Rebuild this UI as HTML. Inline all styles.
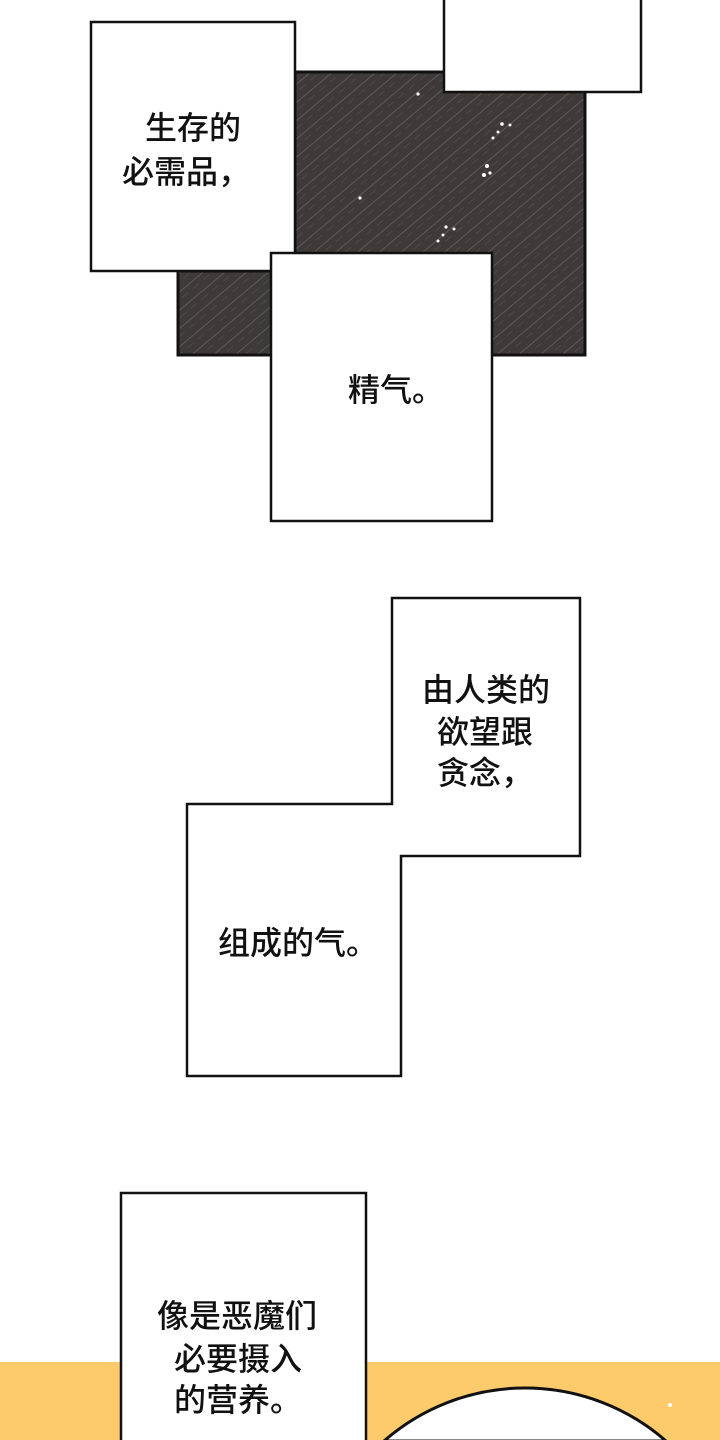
<!DOCTYPE html>
<html><head><meta charset="utf-8"><style>
html,body{margin:0;padding:0;background:#fff;width:720px;height:1440px;overflow:hidden;}
svg{display:block;}
text{font-family:"Liberation Sans","Noto Sans CJK SC",sans-serif;font-size:32px;fill:#111;font-weight:500;}
</style></head><body>
<svg width="720" height="1440" viewBox="0 0 720 1440" xmlns="http://www.w3.org/2000/svg">
<defs>
<pattern id="rain" width="14" height="14" patternUnits="userSpaceOnUse" patternTransform="rotate(-40)">
<rect width="14" height="14" fill="#3e3a39"/>
<line x1="0" y1="3" x2="14" y2="3" stroke="#6a6664" stroke-width="0.7"/>
<line x1="4" y1="9" x2="12" y2="9" stroke="#57524f" stroke-width="0.6"/>
</pattern>
</defs>
<rect width="720" height="1440" fill="#fff"/>
<rect x="0" y="1362" width="720" height="78" fill="#fdca6c"/>
<path d="M384 1441 A214 214 0 0 1 666 1441 Z" fill="#fff" stroke="#111" stroke-width="3"/>
<circle cx="670" cy="1405" r="2" fill="#fff"/>
<path d="M295 72 H585 V355 H178 V271 H295 Z" fill="url(#rain)" stroke="#111" stroke-width="3"/>
<g fill="#fff">
<circle cx="418" cy="94" r="1.6"/><circle cx="502" cy="124" r="1.8"/><circle cx="510" cy="125" r="1.5"/>
<circle cx="498" cy="132" r="1.5"/><circle cx="493" cy="138" r="1.5"/><circle cx="487" cy="166" r="2"/>
<circle cx="484" cy="175" r="2"/><circle cx="490" cy="173" r="1.6"/><circle cx="360" cy="198" r="1.6"/>
<circle cx="446" cy="227" r="1.6"/><circle cx="454" cy="229" r="1.5"/><circle cx="443" cy="235" r="1.5"/><circle cx="438" cy="241" r="1.5"/>
</g>
<path d="M444 0 V92 H641 V0" fill="#fff" stroke="#111" stroke-width="2.5"/>
<rect x="91" y="22" width="204" height="249" fill="#fff" stroke="#111" stroke-width="2.5"/>
<rect x="271" y="253" width="221" height="268" fill="#fff" stroke="#111" stroke-width="2.5"/>
<path d="M392 598 H580 V856 H401 V1076 H187 V804 H392 Z" fill="#fff" stroke="#111" stroke-width="2.5"/>
<path d="M121 1440 V1193 H366 V1440" fill="#fff" stroke="#111" stroke-width="2.5"/>
<text x="145" y="139">生存的</text>
<text x="122" y="183">必需品，</text>
<text x="348" y="401">精气。</text>
<text x="422" y="701">由人类的</text>
<text x="437" y="743">欲望跟</text>
<text x="437" y="784">贪念，</text>
<text x="218" y="954">组成的气。</text>
<text x="157" y="1327">像是恶魔们</text>
<text x="174" y="1370">必要摄入</text>
<text x="174" y="1411">的营养。</text>
</svg>
</body></html>
